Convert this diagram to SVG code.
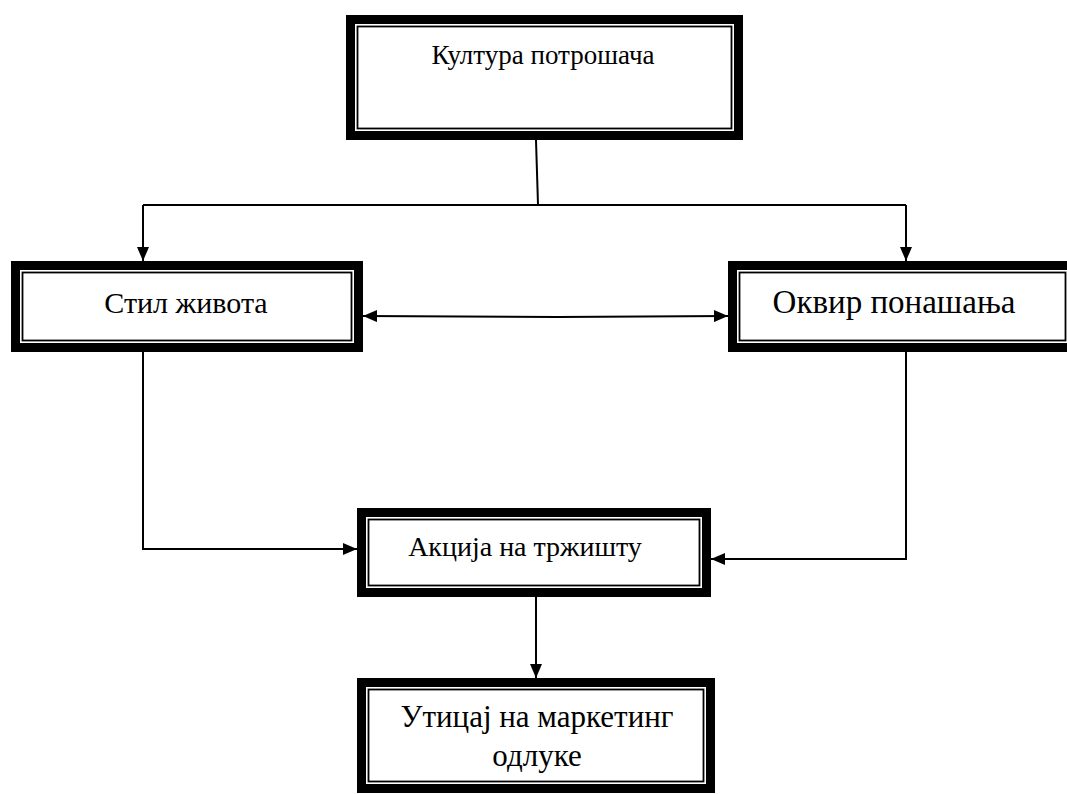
<svg xmlns="http://www.w3.org/2000/svg" width="1067" height="794" viewBox="0 0 1067 794">
  <style>
    .outer { fill: #fff; stroke: #000; stroke-width: 9; }
    .inner { fill: none; stroke: #000; stroke-width: 1.8; }
    .label { font-family: "Liberation Serif", "Times New Roman", serif; font-size: 27px; fill: #000; text-anchor: middle; }
    .wire { fill: none; stroke: #000; stroke-width: 2; }
  </style>
  <defs>
    <marker id="arrow" viewBox="0 0 14 12" refX="14" refY="6" markerWidth="14" markerHeight="12" markerUnits="userSpaceOnUse" orient="auto-start-reverse">
      <path d="M0,0 L14,6 L0,12 Z" fill="#000"/>
    </marker>
  </defs>
  <rect width="1067" height="794" fill="#fff"/>

  <!-- connectors -->
  <g id="connectors">
    <path class="wire" d="M536,140 L538,205"/>
    <path class="wire" d="M143,205 L906,205"/>
    <path class="wire" d="M143,205 L143,261" marker-end="url(#arrow)"/>
    <path class="wire" d="M906,205 L906,261" marker-end="url(#arrow)"/>
    <path class="wire" d="M363,316 L557,317 L728,316" marker-start="url(#arrow)" marker-end="url(#arrow)"/>
    <path class="wire" d="M143,352 L143,549 L357,549" marker-end="url(#arrow)"/>
    <path class="wire" d="M906,352 L906,559 L711,559" marker-end="url(#arrow)"/>
    <path class="wire" d="M536,597 L536,678" marker-end="url(#arrow)"/>
  </g>

  <!-- Култура потрошача -->
  <g id="node-culture">
    <rect class="outer" x="350.5" y="19.5" width="388" height="116"/>
    <rect class="inner" x="357.5" y="26.5" width="374" height="102"/>
    <text class="label" x="543" y="64">Култура потрошача</text>
  </g>

  <!-- Стил живота -->
  <g id="node-lifestyle">
    <rect class="outer" x="15.5" y="265.5" width="343" height="82"/>
    <rect class="inner" x="22.5" y="272.5" width="329" height="68"/>
    <text class="label" x="186" y="313" style="font-size:30px">Стил живота</text>
  </g>

  <!-- Оквир понашања -->
  <g id="node-behaviour">
    <rect class="outer" x="732.5" y="265.5" width="340" height="82"/>
    <rect class="inner" x="739.5" y="272.5" width="326" height="68"/>
    <text class="label" x="894" y="313" style="font-size:33px">Оквир понашања</text>
  </g>

  <!-- Акција на тржишту -->
  <g id="node-action">
    <rect class="outer" x="361.5" y="512.5" width="345" height="80"/>
    <rect class="inner" x="368.5" y="519.5" width="331" height="66"/>
    <text class="label" x="525" y="556" style="font-size:28px">Акција на тржишту</text>
  </g>

  <!-- Утицај на маркетинг одлуке -->
  <g id="node-impact">
    <rect class="outer" x="361.5" y="682.5" width="349" height="106"/>
    <rect class="inner" x="368.5" y="689.5" width="335" height="92"/>
    <text class="label" x="537" y="727" style="font-size:31px">Утицај на маркетинг</text>
    <text class="label" x="537" y="766" style="font-size:31px">одлуке</text>
  </g>
</svg>
